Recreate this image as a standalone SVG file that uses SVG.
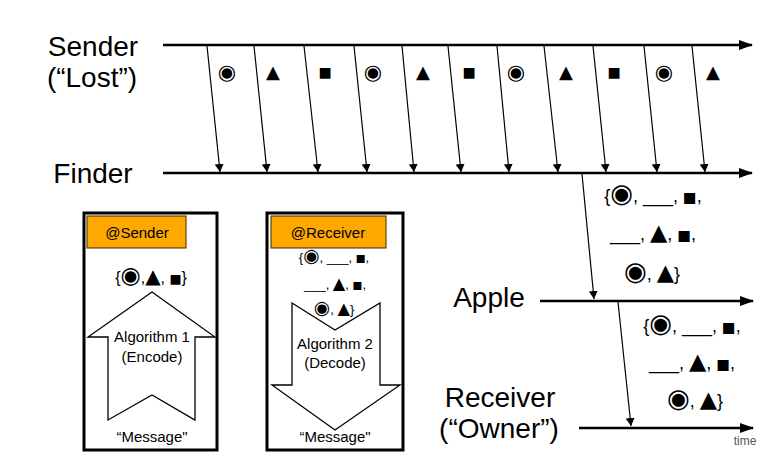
<svg xmlns="http://www.w3.org/2000/svg" width="768" height="467" viewBox="0 0 768 467">
<defs>
<marker id="big" markerWidth="14" markerHeight="10" refX="13" refY="5" orient="auto" markerUnits="userSpaceOnUse"><path d="M0,0 L14,5 L0,10 z" fill="#000"/></marker>
<marker id="sm" markerWidth="8" markerHeight="9" refX="8" refY="4.5" orient="auto" markerUnits="userSpaceOnUse"><path d="M0,0 L8,4.5 L0,9 z" fill="#000"/></marker>
</defs>
<style>
.lbl{font-family:"Liberation Sans",Arial,sans-serif;font-size:28px;fill:#000;text-anchor:middle}
.sym{font-family:"DejaVu Sans",sans-serif;fill:#000;text-anchor:middle}
.set{font-family:"Liberation Sans","DejaVu Sans",sans-serif;font-size:18px;fill:#000;text-anchor:middle}
.sset{font-family:"Liberation Sans","DejaVu Sans",sans-serif;font-size:13px;fill:#000;text-anchor:middle}
.c{font-family:"DejaVu Sans",sans-serif;font-size:1.45em}
.t{font-family:"DejaVu Sans",sans-serif;font-size:1.25em}
.s{font-family:"DejaVu Sans",sans-serif;font-size:0.8em}
.box{fill:#fff;stroke:#000;stroke-width:3}
.hdr{fill:#FFA800;stroke:#3a2a00;stroke-width:1}
.ht{font-family:"Liberation Sans",Arial,sans-serif;font-size:15px;fill:#000;text-anchor:middle}
.alg{font-family:"Liberation Sans",Arial,sans-serif;font-size:15px;fill:#000;text-anchor:middle}
.tl{stroke:#000;stroke-width:2.5;fill:none}
.msg{stroke:#000;stroke-width:1.2;fill:none}
.big{fill:#fff;stroke:#000;stroke-width:1.3}
</style>
<g id="timelines">
<line class="tl" x1="163" y1="45" x2="752" y2="45" marker-end="url(#big)"/>
<line class="tl" x1="163" y1="173" x2="752" y2="173" marker-end="url(#big)"/>
<line class="tl" x1="540" y1="301" x2="753" y2="301" marker-end="url(#big)"/>
<line class="tl" x1="579" y1="428" x2="753" y2="428" marker-end="url(#big)"/>
</g>
<g id="labels">
<text class="lbl" x="93" y="56">Sender</text>
<text class="lbl" x="92" y="87">(“Lost”)</text>
<text class="lbl" x="93" y="183">Finder</text>
<text class="lbl" x="489" y="307">Apple</text>
<text class="lbl" x="500" y="407">Receiver</text>
<text class="lbl" x="499" y="438">(“Owner”)</text>
<text x="745" y="445" font-family="Liberation Sans,Arial,sans-serif" font-size="12" fill="#555" text-anchor="middle">time</text>
</g>
<g id="connectors">
<line class="msg" x1="207" y1="46" x2="220" y2="172" marker-end="url(#sm)"/>
<line class="msg" x1="254" y1="46" x2="267" y2="172" marker-end="url(#sm)"/>
<line class="msg" x1="304" y1="46" x2="318" y2="172" marker-end="url(#sm)"/>
<line class="msg" x1="354" y1="46" x2="367" y2="172" marker-end="url(#sm)"/>
<line class="msg" x1="402" y1="46" x2="414" y2="172" marker-end="url(#sm)"/>
<line class="msg" x1="448" y1="46" x2="461" y2="172" marker-end="url(#sm)"/>
<line class="msg" x1="497" y1="46" x2="509" y2="172" marker-end="url(#sm)"/>
<line class="msg" x1="544" y1="46" x2="558" y2="172" marker-end="url(#sm)"/>
<line class="msg" x1="593" y1="46" x2="606" y2="172" marker-end="url(#sm)"/>
<line class="msg" x1="644" y1="46" x2="657" y2="172" marker-end="url(#sm)"/>
<line class="msg" x1="692" y1="46" x2="705" y2="172" marker-end="url(#sm)"/>
<line class="msg" x1="582" y1="174" x2="594" y2="299" marker-end="url(#sm)"/>
<line class="msg" x1="618" y1="302" x2="631" y2="426" marker-end="url(#sm)"/>
</g>
<g id="symbols">
<text class="sym" x="227" y="79" font-size="21">◉</text>
<text class="sym" x="273" y="78" font-size="18">▲</text>
<text class="sym" x="325" y="77" font-size="14">■</text>
<text class="sym" x="373" y="79" font-size="21">◉</text>
<text class="sym" x="423" y="78" font-size="18">▲</text>
<text class="sym" x="469" y="77" font-size="14">■</text>
<text class="sym" x="516" y="79" font-size="21">◉</text>
<text class="sym" x="566" y="78" font-size="18">▲</text>
<text class="sym" x="614" y="77" font-size="14">■</text>
<text class="sym" x="664" y="79" font-size="21">◉</text>
<text class="sym" x="713" y="78" font-size="18">▲</text>
</g>
<g id="set-finder-apple">
<text class="set" x="653" y="202">{<tspan class="c">◉</tspan>, ___, <tspan class="s">■</tspan>,</text>
<text class="set" x="653" y="240">___, <tspan class="t">▲</tspan>, <tspan class="s">■</tspan>,</text>
<text class="set" x="652" y="280"><tspan class="c">◉</tspan>, <tspan class="t">▲</tspan>}</text>
</g>
<g id="set-apple-receiver">
<text class="set" x="692" y="332">{<tspan class="c">◉</tspan>, ___, <tspan class="s">■</tspan>,</text>
<text class="set" x="692" y="369">___, <tspan class="t">▲</tspan>, <tspan class="s">■</tspan>,</text>
<text class="set" x="695" y="407"><tspan class="c">◉</tspan>, <tspan class="t">▲</tspan>}</text>
</g>
<g id="sender-box">
<rect class="box" x="84" y="213" width="133" height="237"/>
<rect class="hdr" x="87" y="216" width="99" height="32"/>
<text class="ht" x="137" y="238">@Sender</text>
<text x="151" y="283" font-family="Liberation Sans,DejaVu Sans,sans-serif" font-size="16" text-anchor="middle">{<tspan class="c">◉</tspan>,<tspan class="t">▲</tspan>, <tspan class="s">■</tspan>}</text>
<polygon class="big" points="152,292 88,337 108,337 108,420 152,395 195,420 195,337 215,337"/>
<text class="alg" x="152" y="342">Algorithm 1</text>
<text class="alg" x="152" y="362">(Encode)</text>
<text class="alg" x="152" y="442">“Message"</text>
</g>
<g id="receiver-box">
<rect class="box" x="267" y="213" width="136" height="237"/>
<rect class="hdr" x="271" y="216" width="115" height="32"/>
<text class="ht" x="328" y="238">@Receiver</text>
<polygon class="big" points="292,303 335,330 380,303 380,385 400,385 335,430 272,385 292,385"/>
<text class="sset" x="334" y="262">{<tspan class="c">◉</tspan>, ___, <tspan class="s">■</tspan>,</text>
<text class="sset" x="335" y="289">___, <tspan class="t">▲</tspan>, <tspan class="s">■</tspan>,</text>
<text class="sset" x="334" y="314"><tspan class="c">◉</tspan>, <tspan class="t">▲</tspan>}</text>
<text class="alg" x="335" y="349">Algorithm 2</text>
<text class="alg" x="335" y="368">(Decode)</text>
<text class="alg" x="335" y="442">“Message"</text>
</g>
</svg>
